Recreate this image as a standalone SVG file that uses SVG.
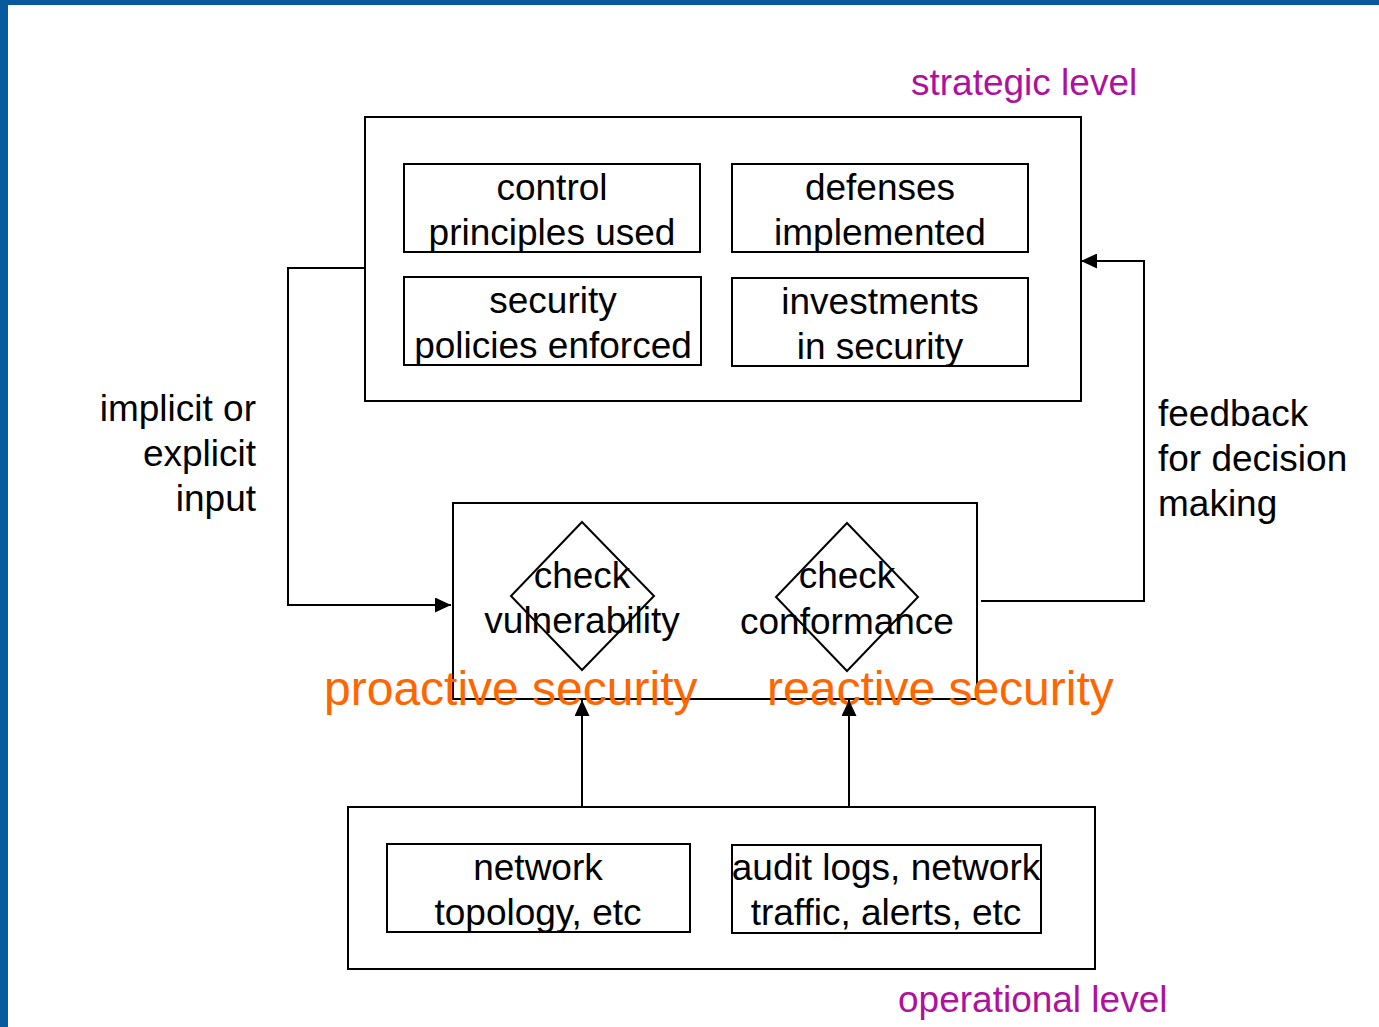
<svg xmlns="http://www.w3.org/2000/svg" width="1379" height="1027" viewBox="0 0 1379 1027">
<style>
.box{fill:none;stroke:#000;stroke-width:2}
.t{font-family:"Liberation Sans",Arial,sans-serif;font-size:37px;fill:#000;text-anchor:middle}
.lvl{font-family:"Liberation Sans",Arial,sans-serif;font-size:37px;fill:#B0109E}
.or{font-family:"Liberation Sans",Arial,sans-serif;font-size:48px;fill:#FF6600}
.ln{fill:none;stroke:#000;stroke-width:2}
</style>
<defs>
<marker id="ah" viewBox="0 0 16 15" refX="16" refY="7.5" markerWidth="16" markerHeight="15" markerUnits="userSpaceOnUse" orient="auto">
<path d="M0,0 L16,7.5 L0,15 Z" fill="#000"/>
</marker>
</defs>
<rect x="0" y="0" width="1379" height="1027" fill="#fff"/>
<rect x="0" y="0" width="1379" height="5" fill="#075A9E"/>
<rect x="0" y="0" width="8" height="1027" fill="#075A9E"/>

<g id="strategic">
<rect class="box" x="365" y="117" width="716" height="284"/>
<text class="lvl" x="911" y="95">strategic level</text>
</g>
<g id="control-principles">
<rect class="box" x="404" y="164" width="296" height="88"/>
<text class="t" x="552" y="200">control</text>
<text class="t" x="552" y="245">principles used</text>
</g>
<g id="defenses">
<rect class="box" x="732" y="164" width="296" height="88"/>
<text class="t" x="880" y="200">defenses</text>
<text class="t" x="880" y="245">implemented</text>
</g>
<g id="security-policies">
<rect class="box" x="404" y="277" width="297" height="88"/>
<text class="t" x="553" y="313">security</text>
<text class="t" x="553" y="358">policies enforced</text>
</g>
<g id="investments">
<rect class="box" x="732" y="278" width="296" height="88"/>
<text class="t" x="880" y="314">investments</text>
<text class="t" x="880" y="359">in security</text>
</g>

<g id="middle">
<rect class="box" x="453" y="503" width="524" height="196"/>
</g>
<g id="check-vulnerability">
<path class="box" d="M582,522 L654,596 L582,670 L511,596 Z"/>
<text class="t" x="582" y="588">check</text>
<text class="t" x="582" y="633">vulnerability</text>
</g>
<g id="check-conformance">
<path class="box" d="M847,523 L918,597 L847,671 L776,597 Z"/>
<text class="t" x="847" y="588">check</text>
<text class="t" x="847" y="634">conformance</text>
</g>
<text class="or" x="324" y="705">proactive security</text>
<text class="or" x="767" y="705">reactive security</text>

<g id="operational">
<rect class="box" x="348" y="807" width="747" height="162"/>
<text class="lvl" x="898" y="1012">operational level</text>
</g>
<g id="network-topology">
<rect class="box" x="387" y="844" width="303" height="88"/>
<text class="t" x="538" y="880">network</text>
<text class="t" x="538" y="925">topology, etc</text>
</g>
<g id="audit-logs">
<rect class="box" x="732" y="845" width="309" height="88"/>
<text class="t" x="886" y="880">audit logs, network</text>
<text class="t" x="886" y="925">traffic, alerts, etc</text>
</g>

<g id="labels">
<text class="t" style="text-anchor:end" x="256" y="421">implicit or</text>
<text class="t" style="text-anchor:end" x="256" y="466">explicit</text>
<text class="t" style="text-anchor:end" x="256" y="511">input</text>
<text class="t" style="text-anchor:start" x="1158" y="426">feedback</text>
<text class="t" style="text-anchor:start" x="1158" y="471">for decision</text>
<text class="t" style="text-anchor:start" x="1158" y="516">making</text>
</g>

<g id="connectors">
<path class="ln" d="M365,268 L288,268 L288,605 L451,605" marker-end="url(#ah)"/>
<path class="ln" d="M981,601 L1144,601 L1144,261 L1081,261" marker-end="url(#ah)"/>
<path class="ln" d="M582,806 L582,700" marker-end="url(#ah)"/>
<path class="ln" d="M849,806 L849,700" marker-end="url(#ah)"/>
</g>
</svg>
